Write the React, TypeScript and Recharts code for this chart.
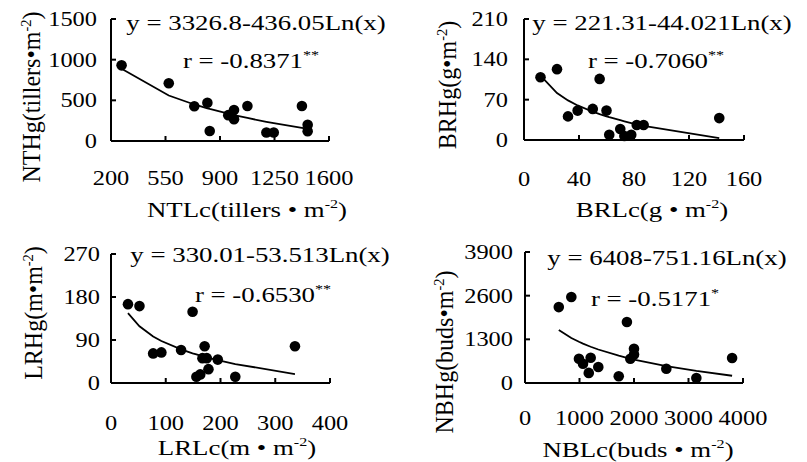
import { ScatterChart, Scatter, XAxis, YAxis } from "recharts"

const FONT = '"Liberation Serif", "Times New Roman", serif'
const SX = 1.22

// NTLc vs NTHg
const ntlcX = [268, 571, 735, 819, 834, 953, 990, 990, 1076, 1198, 1245, 1426, 1463, 1463]
const nthgY = [930, 710, 427, 470, 123, 318, 380, 268, 430, 105, 105, 430, 200, 120]
const ntFitX = [268, 571, 735, 819, 834, 953, 990, 1076, 1198, 1245, 1426, 1463]
const ntFitY = [889, 559, 449, 402, 394, 336, 319, 283, 236, 219, 160, 149]
const ntXTicks = [200, 550, 900, 1250, 1600]
const ntYTicks = [0, 500, 1000, 1500]

// BRLc vs BRHg
const brlcX = [12, 24, 32, 39, 50, 55, 60, 62, 70, 73, 78, 82, 87, 142]
const brhgY = [109, 123, 41, 51, 54, 106, 51, 9, 19, 7, 9, 26, 26, 38]
const brFitX = [12, 24, 32, 39, 50, 55, 60, 62, 70, 73, 78, 82, 87, 142]
const brFitY = [111.9, 81.4, 68.7, 60.0, 49.1, 44.9, 41.1, 39.6, 34.3, 32.4, 29.5, 27.3, 24.7, 3.1]
const brXTicks = [0, 40, 80, 120, 160]
const brYTicks = [0, 70, 140, 210]

// LRLc vs LRHg
const lrlcX = [31, 52, 77, 92, 128, 149, 156, 163, 167, 171, 175, 178, 195, 227, 336]
const lrhgY = [165, 161, 62, 64, 69, 149, 13, 18, 52, 77, 52, 29, 49, 13, 77]
const lrFitX = [31, 52, 77, 92, 128, 149, 156, 163, 167, 171, 175, 178, 195, 227, 336]
const lrFitY = [146.2, 118.6, 97.5, 88.0, 70.4, 62.2, 59.8, 57.4, 56.1, 54.8, 53.6, 52.7, 47.8, 39.7, 18.7]
const lrXTicks = [0, 100, 200, 300, 400]
const lrYTicks = [0, 90, 180, 270]

// NBLc vs NBHg
const nblcX = [620, 850, 990, 1064, 1170, 1205, 1345, 1720, 1870, 1933, 2000, 2000, 2593, 3144, 3800]
const nbhgY = [2260, 2560, 720, 575, 300, 750, 475, 200, 1815, 720, 1020, 850, 425, 150, 745]
const nbFitX = [620, 850, 990, 1064, 1170, 1205, 1345, 1720, 1870, 1933, 2000, 2593, 3144, 3800]
const nbFitY = [1578, 1341, 1227, 1172, 1101, 1079, 997, 812, 749, 724, 698, 503, 359, 216]
const nbXTicks = [0, 1000, 2000, 3000, 4000]
const nbYTicks = [0, 1300, 2600, 3900]

const zip = (xs: number[], ys: number[]) => xs.map((x, i) => ({ x, y: ys[i] }))

const Dot = (p: any) => <circle cx={p.cx} cy={p.cy} r={5.3} fill="#000" />
const NoDot = () => <g />

// superscript, optionally followed by normal-size text back on the baseline
function Sup({ s, after }: { s: string; after?: string }) {
  return (
    <>
      <tspan dy={-9} fontSize="0.6em">{s}</tspan>
      {after ? <tspan dy={9}>{after}</tspan> : null}
    </>
  )
}

function T({ x, y, size, children }: any) {
  return (
    <text transform={`translate(${x},${y}) scale(${SX},1)`} textAnchor="middle"
      fontSize={size} fontFamily={FONT} fill="#000">
      {children}
    </text>
  )
}

function VT({ x, y, children }: any) {
  return (
    <text transform={`translate(${x},${y}) scale(1.05,1) rotate(-90)`} textAnchor="middle"
      fontSize={24} fontFamily={FONT} fill="#000">
      {children}
    </text>
  )
}

type PanelProps = {
  pts: { x: number; y: number }[]
  fit: { x: number; y: number }[]
  xTicks: number[]
  yTicks: number[]
  L: number; R: number; T: number; B: number
  yLabelRight: number
  xLabelBase: number
  children: any
}

function Panel({ pts, fit, xTicks, yTicks, L, R, T: top, B, yLabelRight, xLabelBase, children }: PanelProps) {
  const yw = 40
  const xh = 30
  const xTick = (p: any) => (
    <text transform={`translate(${p.x},${xLabelBase}) scale(${SX},1)`} textAnchor="middle"
      fontSize={20} fontFamily={FONT} fill="#000">{p.payload.value}</text>
  )
  const yTick = (p: any) => (
    <text transform={`translate(${yLabelRight},${p.y + 7}) scale(${SX},1)`} textAnchor="end"
      fontSize={20} fontFamily={FONT} fill="#000">{p.payload.value}</text>
  )
  return (
    <div style={{ position: "absolute", left: 0, top: 0 }}>
      <ScatterChart width={807} height={462}
        margin={{ top, left: L - yw, right: 807 - R, bottom: 462 - B - xh }}>
        <XAxis type="number" dataKey="x" domain={[xTicks[0], xTicks[xTicks.length - 1]]}
          ticks={xTicks} interval={0} height={xh} tickSize={-5}
          axisLine={{ stroke: "#000", strokeWidth: 2 }} tickLine={{ stroke: "#000", strokeWidth: 2 }}
          tick={xTick} />
        <YAxis type="number" dataKey="y" domain={[yTicks[0], yTicks[yTicks.length - 1]]}
          ticks={yTicks} interval={0} width={yw} tickSize={-5}
          axisLine={{ stroke: "#000", strokeWidth: 2 }} tickLine={{ stroke: "#000", strokeWidth: 2 }}
          tick={yTick} />
        <Scatter data={fit} line={{ stroke: "#000", strokeWidth: 1.8 }} shape={NoDot}
          isAnimationActive={false} />
        <Scatter data={pts} shape={Dot} isAnimationActive={false} />
        {children}
      </ScatterChart>
    </div>
  )
}

export default function App() {
  return (
    <div style={{ position: "fixed", left: 0, top: 0, width: 807, height: 462, background: "#fff" }}>
      <Panel pts={zip(ntlcX, nthgY)} fit={zip(ntFitX, ntFitY)} xTicks={ntXTicks} yTicks={ntYTicks}
        L={111} R={329} T={19} B={141} yLabelRight={97} xLabelBase={185}>
        <T x={256} y={30} size={22}>y = 3326.8-436.05Ln(x)</T>
        <T x={251} y={68} size={22}>r = -0.8371<Sup s="**" /></T>
        <T x={247} y={217} size={22}>NTLc(tillers • m<Sup s="-2" after=")" /></T>
        <VT x={40} y={97}>NTHg(tillers•m<Sup s="-2" after=")" /></VT>
      </Panel>
      <Panel pts={zip(brlcX, brhgY)} fit={zip(brFitX, brFitY)} xTicks={brXTicks} yTicks={brYTicks}
        L={524} R={744} T={19} B={140} yLabelRight={508} xLabelBase={186}>
        <T x={662} y={30} size={22}>y = 221.31-44.021Ln(x)</T>
        <T x={656} y={68} size={22}>r = -0.7060<Sup s="**" /></T>
        <T x={652} y={217} size={22}>BRLc(g • m<Sup s="-2" after=")" /></T>
        <VT x={456} y={85}>BRHg(g•m<Sup s="-2" after=")" /></VT>
      </Panel>
      <Panel pts={zip(lrlcX, lrhgY)} fit={zip(lrFitX, lrFitY)} xTicks={lrXTicks} yTicks={lrYTicks}
        L={111} R={330} T={254} B={383} yLabelRight={100} xLabelBase={430}>
        <T x={260} y={262} size={22}>y = 330.01-53.513Ln(x)</T>
        <T x={263} y={302} size={22}>r = -0.6530<Sup s="**" /></T>
        <T x={237} y={455} size={22}>LRLc(m • m<Sup s="-2" after=")" /></T>
        <VT x={42} y={313}>LRHg(m•m<Sup s="-2" after=")" /></VT>
      </Panel>
      <Panel pts={zip(nblcX, nbhgY)} fit={zip(nbFitX, nbFitY)} xTicks={nbXTicks} yTicks={nbYTicks}
        L={525} R={743} T={252} B={383} yLabelRight={513} xLabelBase={425}>
        <T x={667} y={265} size={22}>y = 6408-751.16Ln(x)</T>
        <T x={655} y={306} size={22}>r = -0.5171<Sup s="*" /></T>
        <T x={638} y={457} size={22}>NBLc(buds • m<Sup s="-2" after=")" /></T>
        <VT x={453} y={352}>NBHg(buds•m<Sup s="-2" after=")" /></VT>
      </Panel>
    </div>
  )
}
